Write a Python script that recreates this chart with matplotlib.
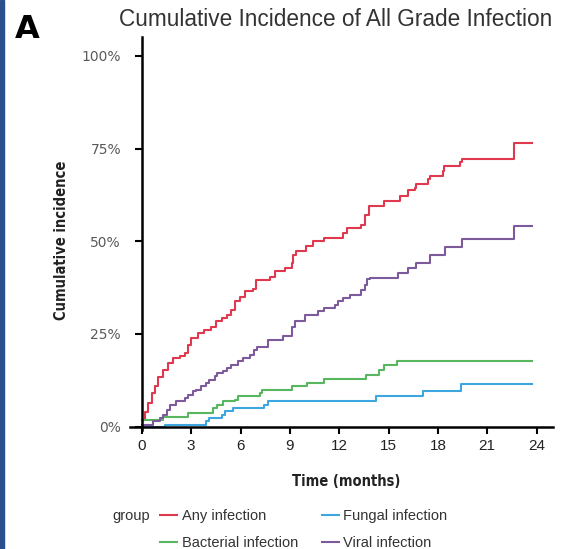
import matplotlib
matplotlib.use("Agg")
import matplotlib.pyplot as plt
from matplotlib.patches import Rectangle
from matplotlib.ticker import FuncFormatter

plt.rcParams['font.family'] = ['Liberation Sans', 'DejaVu Sans']

# step curves: time (months) where each jump happens, and incidence (%) after the jump
any_t = [0, 0.18, 0.38, 0.59, 0.79, 0.99, 1.3, 1.6, 1.9, 2.3, 2.6, 2.8, 3.0, 3.4, 3.8,
         4.2, 4.5, 4.85, 5.15, 5.45, 5.65, 5.95, 6.25, 6.75, 6.95, 7.8, 8.1, 8.7, 9.1,
         9.2, 9.4, 10.0, 10.4, 11.1, 12.25, 12.45, 13.35, 13.55, 13.8, 14.7, 15.7, 16.2,
         16.6, 16.7, 17.4, 17.5, 18.3, 18.4, 19.35, 19.45, 22.6]
any_v = [1.8, 4, 6.4, 9, 10.9, 13.5, 15.3, 17.1, 18.5, 19, 19.9, 22, 23.9, 25.2, 26.1,
         27, 28.4, 29.3, 30.2, 31.5, 33.8, 35.1, 36.5, 37, 39.6, 40.5, 41.9, 42.8, 44.1,
         46.4, 47.3, 48.6, 50, 50.9, 52.2, 53.6, 54.5, 57.2, 59.4, 60.8, 62.1, 63.9,
         64.5, 65.4, 66.8, 67.6, 69, 70.4, 71.3, 72.3, 76.5]

bact_t = [0, 1.3, 2.8, 4.35, 4.55, 4.95, 5.65, 5.85, 7.2, 7.3, 9.1, 10.05, 11.05,
          13.65, 14.45, 14.75, 15.5]
bact_v = [1.8, 2.7, 3.6, 5, 5.9, 6.8, 7.3, 8.2, 9.1, 10, 10.9, 11.8, 12.9,
          14, 15.4, 16.6, 17.8]

fung_t = [0, 1.4, 3.9, 4.1, 4.85, 5.05, 5.55, 7.4, 7.7, 14.25, 17.1, 19.4]
fung_v = [0, 0.5, 1.4, 2.3, 3.2, 4.1, 5, 5.9, 6.8, 8.2, 9.5, 11.5]

viral_t = [0, 0.7, 1.1, 1.3, 1.5, 1.7, 2.1, 2.6, 2.8, 3.1, 3.3, 3.6, 3.9, 4.1, 4.45,
           4.55, 4.95, 5.15, 5.45, 5.85, 6.15, 6.55, 6.8, 7.0, 7.7, 8.6, 9.1, 9.3, 9.9,
           10.7, 11.1, 11.75, 11.95, 12.25, 12.65, 13.35, 13.55, 13.7, 13.9, 15.6, 16.2,
           16.7, 17.5, 18.45, 19.45, 22.6]
viral_v = [0.5, 1.4, 2.3, 3.2, 4.5, 5.9, 6.8, 7.7, 8.6, 9.5, 10, 10.9, 11.8, 12.7, 13.6,
           14.5, 14.9, 15.8, 16.7, 17.6, 18.5, 19.4, 20.7, 21.6, 23.5, 24.4, 27, 28.4, 30.2,
           31.1, 32, 32.9, 33.8, 34.7, 35.6, 36.9, 38.3, 39.7, 40.1, 41.4, 42.8,
           44.1, 46.4, 48.4, 50.7, 54]

last_t = 23.75
groups = ['Any infection', 'Bacterial infection', 'Fungal infection', 'Viral infection']
colors = ['#E0384F', '#58B65F', '#3DA6DE', '#7D5A9C']
x_ticks = [0, 3, 6, 9, 12, 15, 18, 21, 24]
y_ticks = [0, 25, 50, 75, 100]

fig = plt.figure(figsize=(5.66, 5.49), dpi=100)
ax = fig.add_axes([130 / 566, 1 - 430 / 549, 423 / 566, 393 / 549])

series = [(any_t, any_v), (bact_t, bact_v), (fung_t, fung_v), (viral_t, viral_v)]
for (t, v), name, c in zip(series, groups, colors):
    ax.step(t + [last_t], v + [v[-1]], where='post', color=c, lw=1.5, label=name)

ax.set_xlim(-0.72, 25.0)
ax.set_ylim(-0.9, 105.1)
ax.spines['left'].set_position(('data', 0))
ax.spines['bottom'].set_position(('data', 0))
ax.spines['right'].set_visible(False)
ax.spines['top'].set_visible(False)
for s in ('left', 'bottom'):
    ax.spines[s].set_linewidth(1.8)
ax.set_xticks(x_ticks)
ax.set_yticks(y_ticks)
ax.yaxis.set_major_formatter(FuncFormatter(lambda v, p: '%d%%' % v))
ax.tick_params(axis='both', direction='out', length=5, width=1.5, color='black')
ax.tick_params(axis='x', labelsize=11, labelcolor='#222222', pad=4)
ax.tick_params(axis='y', labelsize=10, labelcolor='#5a5a5a', pad=10)
for lab in ax.get_yticklabels():
    lab.set_family('DejaVu Sans')

narrow = dict(family='DejaVu Sans', fontstretch='condensed', fontweight='bold',
              color='#222222')
fig.text(62 / 566, 1 - 240 / 549, 'Cumulative incidence', rotation=90, ha='center',
         va='center', fontsize=10.5, **narrow)
fig.text(346 / 566, 1 - 482 / 549, 'Time (months)', ha='center', va='center',
         fontsize=10.5, **narrow)

fig.text(336 / 566, 1 - 20 / 549, 'Cumulative Incidence of All Grade Infection',
         ha='center', va='center', fontsize=16.3, color='#333333')
fig.text(15 / 566, 1 - 29 / 549, 'A', ha='left', va='center', fontsize=23,
         fontweight='bold', family='DejaVu Sans', color='black')

fig.text(131 / 566, 1 - 516 / 549, 'group', ha='center', va='center', fontsize=10.5,
         color='#333333')
fig.legend(loc='center left', bbox_to_anchor=(153 / 566, 1 - 529.5 / 549), ncol=2,
           frameon=False, fontsize=10.5, handlelength=1.17, handletextpad=0.3,
           columnspacing=1.65, labelspacing=0.85, borderpad=0, labelcolor='#333333')

# dark blue frame edge on the left
fig.patches.append(Rectangle((0, 0), 4 / 566, 1, transform=fig.transFigure,
                             color='#2B4F8C', zorder=10))

fig.savefig('out.png', dpi=100)
